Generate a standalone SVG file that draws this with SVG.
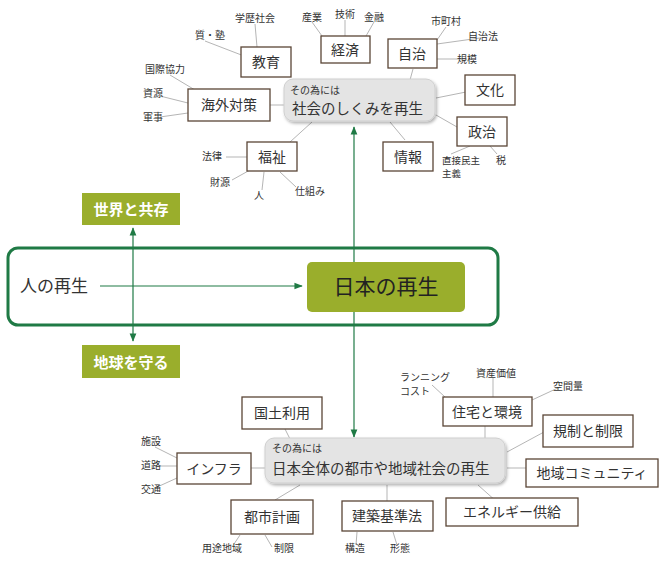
<svg xmlns="http://www.w3.org/2000/svg" width="666" height="564" viewBox="0 0 666 564">
<defs>
<style>
text{font-family:"Noto Sans CJK JP","Noto Sans",sans-serif;fill:#333}
.b{fill:#fff;stroke:#5a4536;stroke-width:1.3}
.t{font-size:14px;text-anchor:middle}
.s{font-size:10px;text-anchor:middle}
.l{stroke:#b5b5b5;stroke-width:1;fill:none}
.hub{fill:#e4e4e4;stroke:#cfcfcf;stroke-width:1}
.g{fill:#9aae2c}
.gt{fill:#fff;font-size:15px;font-weight:bold;text-anchor:middle}
.ar{stroke:#1f7a45;stroke-width:1.2;fill:none}
</style>
<marker id="m" viewBox="0 0 10 10" refX="9" refY="5" markerWidth="7" markerHeight="7" orient="auto-start-reverse"><path d="M0,1 L10,5 L0,9 z" fill="#1f7a45"/></marker>
<filter id="sh" x="-10%" y="-20%" width="130%" height="150%"><feDropShadow dx="1.5" dy="2" stdDeviation="1.5" flood-color="#000" flood-opacity="0.3"/></filter>
</defs>
<g id="connectors">
<path class="l" d="M255,24 L257,47 M205,41 L244,56 M170,75 L195,90 M160,96 L188,103 M160,117 L188,113 M270,105 L284,105 M312,22 L322,36 M345,20 L345,36 M374,22 L366,36 M446,27 L437,40 M480,38 L437,44 M467,59 L437,59 M413,69 L410,80 M436,98 L466,92 M436,115 L457,127 M390,122 L405,140 M312,122 L290,142 M226,157 L247,157 M232,180 L250,170 M262,190 L264,172 M296,187 L280,172 M451,154 L470,146 M497,154 L490,146"/>
<path class="l" d="M285,429 L290,439 M432,385 L445,397 M493,378 L493,397 M560,387 L532,400 M485,426 L485,439 M507,452 L544,432 M507,468 L526,468 M478,485 L497,502 M387,485 L387,502 M300,485 L275,500 M251,468 L267,468 M155,447 L177,458 M160,466 L177,466 M155,488 L177,478 M232,547 L240,535 M272,547 L265,535 M356,545 L357,532 M397,545 L393,532"/>
<line class="ar" x1="100" y1="286" x2="302" y2="286" marker-end="url(#m)"/>
<line class="ar" x1="133" y1="228" x2="133" y2="341" marker-start="url(#m)" marker-end="url(#m)"/>
<line class="ar" x1="354" y1="127" x2="354" y2="437" marker-start="url(#m)" marker-end="url(#m)"/>
</g>
<g id="frame"><rect x="8" y="248" width="490" height="77" rx="10" fill="none" stroke="#1f7a45" stroke-width="3"/><text x="20" y="292" font-size="17">人の再生</text></g>
<g id="nihon"><rect class="g" x="307" y="262" width="158" height="50" rx="5"/><text x="386" y="294" font-size="21" text-anchor="middle" style="fill:#222">日本の再生</text></g>
<g id="sekai"><rect class="g" x="82" y="193" width="98" height="32"/><text class="gt" x="131" y="215">世界と共存</text></g>
<g id="chikyu"><rect class="g" x="82" y="345" width="98" height="33"/><text class="gt" x="131" y="368">地球を守る</text></g>
<g id="hub1"><rect class="hub" x="284" y="79" width="151" height="42" rx="9" filter="url(#sh)"/><text x="290" y="94" font-size="10">その為には</text><text x="292" y="114" font-size="14.5">社会のしくみを再生</text></g>
<g id="kyoiku"><rect class="b" x="241" y="47" width="50" height="30"/><text class="t" x="266" y="67">教育</text><text class="s" x="255" y="22">学歴社会</text><text class="s" x="210" y="39">質・塾</text></g>
<g id="keizai"><rect class="b" x="321" y="36" width="49" height="27"/><text class="t" x="345" y="55">経済</text><text class="s" x="312" y="21">産業</text><text class="s" x="345" y="18">技術</text><text class="s" x="374" y="21">金融</text></g>
<g id="jichi"><rect class="b" x="388" y="39" width="49" height="29"/><text class="t" x="412" y="59">自治</text><text class="s" x="446" y="25">市町村</text><text class="s" x="483" y="40">自治法</text><text class="s" x="467" y="63">規模</text></g>
<g id="bunka"><rect class="b" x="465" y="75" width="50" height="30"/><text class="t" x="490" y="95">文化</text></g>
<g id="seiji"><rect class="b" x="457" y="117" width="50" height="29"/><text class="t" x="482" y="137">政治</text><text x="442" y="164" font-size="9.5">直接民主</text><text x="442" y="177" font-size="9.5">主義</text><text class="s" x="501" y="164">税</text></g>
<g id="joho"><rect class="b" x="383" y="142" width="50" height="29"/><text class="t" x="408" y="162">情報</text></g>
<g id="fukushi"><rect class="b" x="247" y="142" width="50" height="29"/><text class="t" x="272" y="162">福祉</text><text class="s" x="212" y="160">法律</text><text class="s" x="220" y="186">財源</text><text class="s" x="259" y="199">人</text><text class="s" x="310" y="195">仕組み</text></g>
<g id="kaigai"><rect class="b" x="188" y="89" width="82" height="32"/><text class="t" x="229" y="110">海外対策</text><text class="s" x="165" y="73">国際協力</text><text class="s" x="153" y="97">資源</text><text class="s" x="153" y="121">軍事</text></g>
<g id="hub2"><rect class="hub" x="265" y="438" width="240" height="45" rx="9" filter="url(#sh)"/><text x="272" y="452" font-size="10">その為には</text><text x="272" y="474" font-size="14.5">日本全体の都市や地域社会の再生</text></g>
<g id="kokudo"><rect class="b" x="242" y="397" width="80" height="32"/><text class="t" x="282" y="418">国土利用</text></g>
<g id="jutaku"><rect class="b" x="443" y="397" width="89" height="29"/><text class="t" x="487" y="417">住宅と環境</text><text x="400" y="381" font-size="10">ランニング</text><text x="400" y="395" font-size="10">コスト</text><text class="s" x="496" y="377">資産価値</text><text class="s" x="568" y="390">空間量</text></g>
<g id="kisei"><rect class="b" x="543" y="415" width="90" height="32"/><text class="t" x="588" y="436">規制と制限</text></g>
<g id="community"><rect class="b" x="526" y="459" width="132" height="28"/><text class="t" x="592" y="478">地域コミュニティ</text></g>
<g id="energy"><rect class="b" x="446" y="498" width="132" height="28"/><text class="t" x="512" y="517">エネルギー供給</text></g>
<g id="kenchiku"><rect class="b" x="342" y="501" width="91" height="30"/><text class="t" x="387" y="521">建築基準法</text><text class="s" x="355" y="552">構造</text><text class="s" x="400" y="552">形態</text></g>
<g id="toshi"><rect class="b" x="231" y="500" width="82" height="34"/><text class="t" x="272" y="522">都市計画</text><text class="s" x="222" y="552">用途地域</text><text class="s" x="284" y="552">制限</text></g>
<g id="infra"><rect class="b" x="177" y="453" width="74" height="31"/><text class="t" x="214" y="474">インフラ</text><text class="s" x="151" y="445">施設</text><text class="s" x="151" y="469">道路</text><text class="s" x="151" y="493">交通</text></g>
</svg>
